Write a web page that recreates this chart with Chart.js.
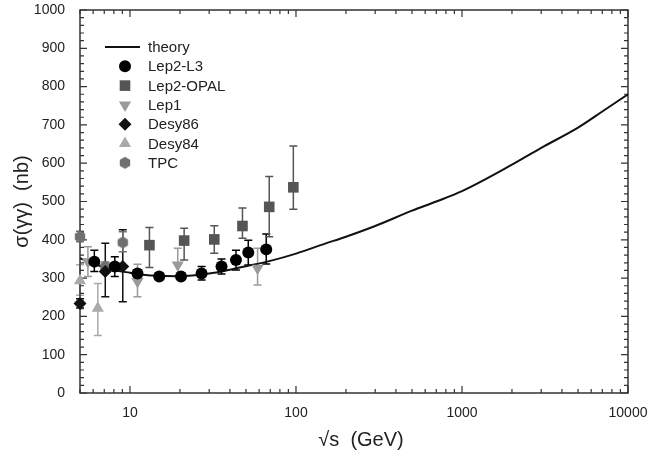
<!DOCTYPE html>
<html>
<head>
<meta charset="utf-8">
<script src="https://cdn.jsdelivr.net/npm/chart.js@4.4.0/dist/chart.umd.min.js"></script>
<style>
  html, body { margin: 0; padding: 0; background: #fff; }
  canvas { display: block; }
</style>
</head>
<body>
<canvas id="chart" width="649" height="462"></canvas>
<script>
// theory curve
const theoryX = [5, 6, 7, 8, 10, 12, 15, 20, 30, 40, 50, 70, 100, 150, 200, 300, 500, 700, 1000, 2000, 3000, 5000, 7000, 10000];
const theoryY = [352, 338, 328, 321, 314, 309, 306, 305, 312, 322, 331, 345, 364, 390, 408, 436, 476, 500, 527, 596, 640, 693, 735, 780];

// measurements: sqrt(s), sigma, lower / upper end of error bar
const l3X  = [6.1, 8.1, 11.1, 15, 20.3, 27, 35.6, 43.5, 51.6, 66.2];
const l3Y  = [343, 330, 312, 304, 304, 312, 330, 347, 367, 375];
const l3Lo = [317, 304, 302, 297, 296, 295, 311, 321, 334, 337];
const l3Hi = [373, 356, 322, 311, 312, 330, 350, 373, 399, 415];

const opalX  = [13.1, 21.2, 32.2, 47.6, 69, 96.4];
const opalY  = [386, 398, 401, 436, 486, 537];
const opalLo = [328, 347, 365, 404, 408, 480];
const opalHi = [432, 430, 437, 483, 565, 645];

const lep1X  = [5.58, 11.1, 19.4, 58.7];
const lep1Y  = [343, 291, 334, 326];
const lep1Lo = [304, 251, 304, 282];
const lep1Hi = [382, 336, 378, 378];

const desy86X  = [5, 7.1, 9.05];
const desy86Y  = [234, 317, 330];
const desy86Lo = [222, 251, 238];
const desy86Hi = [246, 391, 426];

const desy84X  = [5, 6.4];
const desy84Y  = [293, 221];
const desy84Lo = [255, 150];
const desy84Hi = [335, 286];

const tpcX  = [5, 7.1, 9.05];
const tpcY  = [408, 330, 393];
const tpcLo = [395, 318, 369];
const tpcHi = [422, 342, 421];

const xTickValues = [5, 6, 7, 8, 9, 10, 20, 30, 40, 50, 60, 70, 80, 90, 100,
  200, 300, 400, 500, 600, 700, 800, 900, 1000,
  2000, 3000, 4000, 5000, 6000, 7000, 8000, 9000, 10000];
const xLabelValues = [10, 100, 1000, 10000];

const FONT = '"Liberation Sans", Arial, Helvetica, sans-serif';

function toPoints(xs, ys, lo, hi) {
  return xs.map((x, i) => ({ x: x, y: ys[i], lo: lo ? lo[i] : null, hi: hi ? hi[i] : null }));
}

function hexagon(r, color) {
  const c = document.createElement('canvas');
  c.width = c.height = 2 * r + 2;
  const g = c.getContext('2d');
  g.fillStyle = color;
  g.beginPath();
  for (let i = 0; i < 6; i++) {
    const a = Math.PI / 6 + i * Math.PI / 3;
    const px = r + 1 + r * Math.cos(a), py = r + 1 + r * Math.sin(a);
    if (i === 0) g.moveTo(px, py); else g.lineTo(px, py);
  }
  g.closePath();
  g.fill();
  return c;
}

function markerSet(label, xs, ys, lo, hi, color, style, radius, rotation) {
  return {
    label: label,
    data: toPoints(xs, ys, lo, hi),
    showLine: false,
    clip: false,
    pointStyle: style,
    pointRadius: radius,
    pointRotation: rotation || 0,
    pointBackgroundColor: color,
    pointBorderColor: color,
    pointBorderWidth: 0,
    errColor: color,
    order: 0
  };
}

const datasets = [
  {
    label: 'theory',
    data: toPoints(theoryX, theoryY),
    showLine: true,
    borderColor: '#111',
    borderWidth: 2,
    pointRadius: 0,
    cubicInterpolationMode: 'monotone',
    order: 1
  },
  markerSet('Lep2-L3', l3X, l3Y, l3Lo, l3Hi, '#000', 'circle', 6),
  markerSet('Lep2-OPAL', opalX, opalY, opalLo, opalHi, '#555', 'rect', 7.5),
  markerSet('Lep1', lep1X, lep1Y, lep1Lo, lep1Hi, '#9a9a9a', 'triangle', 7, 180),
  markerSet('Desy86', desy86X, desy86Y, desy86Lo, desy86Hi, '#111', 'rectRot', 6.5),
  markerSet('Desy84', desy84X, desy84Y, desy84Lo, desy84Hi, '#aaa', 'triangle', 7),
  markerSet('TPC', tpcX, tpcY, tpcLo, tpcHi, '#707070', hexagon(6, '#707070'), 6)
];

// error bars, drawn under the markers
const errorBars = {
  id: 'errorBars',
  beforeDatasetsDraw(chart) {
    const ctx = chart.ctx, xs = chart.scales.x, ys = chart.scales.y;
    ctx.save();
    ctx.lineWidth = 1.5;
    chart.data.datasets.forEach(ds => {
      if (!ds.errColor) return;
      ctx.strokeStyle = ds.errColor;
      ds.data.forEach(p => {
        if (p.lo == null) return;
        const px = xs.getPixelForValue(p.x);
        const y1 = ys.getPixelForValue(p.lo), y2 = ys.getPixelForValue(p.hi);
        ctx.beginPath();
        ctx.moveTo(px, y1); ctx.lineTo(px, y2);
        ctx.moveTo(px - 4, y1); ctx.lineTo(px + 4, y1);
        ctx.moveTo(px - 4, y2); ctx.lineTo(px + 4, y2);
        ctx.stroke();
      });
    });
    ctx.restore();
  }
};

// box, inward ticks on all sides, axis titles, legend
const frame = {
  id: 'frame',
  beforeDatasetsDraw(chart) {
    const ctx = chart.ctx, a = chart.chartArea, xs = chart.scales.x, ys = chart.scales.y;
    ctx.save();
    ctx.strokeStyle = '#333';
    ctx.lineWidth = 1.5;
    ctx.strokeRect(a.left, a.top, a.width, a.height);
    ctx.lineWidth = 1.2;
    ctx.beginPath();
    xs.ticks.forEach(t => {
      const px = xs.getPixelForValue(t.value);
      const len = xLabelValues.includes(t.value) ? 7 : 4;
      ctx.moveTo(px, a.bottom); ctx.lineTo(px, a.bottom - len);
      ctx.moveTo(px, a.top); ctx.lineTo(px, a.top + len);
    });
    ys.ticks.forEach(t => {
      const py = ys.getPixelForValue(t.value);
      const len = t.value % 100 === 0 ? 7 : 4;
      ctx.moveTo(a.left, py); ctx.lineTo(a.left + len, py);
      ctx.moveTo(a.right, py); ctx.lineTo(a.right - len, py);
    });
    ctx.stroke();
    ctx.restore();
  },
  afterDraw(chart) {
    const ctx = chart.ctx, a = chart.chartArea;
    ctx.save();
    ctx.fillStyle = '#222';
    ctx.font = '20px ' + FONT;
    ctx.textAlign = 'center';
    ctx.textBaseline = 'middle';
    ctx.fillText('\u221As  (GeV)', (a.left + a.right) / 2 + 7, 440);
    ctx.save();
    ctx.translate(22, (a.top + a.bottom) / 2);
    ctx.rotate(-Math.PI / 2);
    ctx.fillText('\u03C3(\u03B3\u03B3)  (nb)', 0, 0);
    ctx.restore();

    // legend
    ctx.font = '15px ' + FONT;
    ctx.textAlign = 'left';
    chart.data.datasets.forEach((ds, i) => {
      const ly = a.top + 37 + i * 19.3;
      if (ds.showLine) {
        ctx.strokeStyle = ds.borderColor;
        ctx.lineWidth = 2;
        ctx.beginPath();
        ctx.moveTo(a.left + 25, ly); ctx.lineTo(a.left + 60, ly);
        ctx.stroke();
      } else {
        ctx.fillStyle = ds.pointBackgroundColor;
        ctx.strokeStyle = ds.pointBorderColor;
        Chart.helpers.drawPoint(ctx, {
          pointStyle: ds.pointStyle, radius: ds.pointRadius,
          rotation: ds.pointRotation, borderWidth: 0
        }, a.left + 45, ly);
      }
      ctx.fillStyle = '#222';
      ctx.fillText(ds.label, a.left + 68, ly + 1);
    });
    ctx.restore();
  }
};

function noScalePadding(s) {
  s.paddingTop = 0;
  s.paddingBottom = 0;
  s.paddingLeft = 0;
  s.paddingRight = 0;
}

new Chart(document.getElementById('chart'), {
  type: 'scatter',
  data: { datasets: datasets },
  options: {
    responsive: false,
    animation: false,
    devicePixelRatio: 1,
    layout: { padding: { left: 0, right: 21, top: 10, bottom: 0 } },
    plugins: { legend: { display: false }, tooltip: { enabled: false } },
    scales: {
      x: {
        type: 'logarithmic',
        min: 5,
        max: 10000,
        afterBuildTicks: s => { s.ticks = xTickValues.map(v => ({ value: v })); },
        afterFit: s => { s.height = 69; noScalePadding(s); },
        grid: { display: false },
        border: { display: false },
        ticks: {
          autoSkip: false,
          maxRotation: 0,
          padding: 4,
          color: '#222',
          font: { family: FONT, size: 14 },
          callback: v => xLabelValues.includes(v) ? String(v) : ''
        }
      },
      y: {
        min: 0,
        max: 1000,
        afterFit: s => { s.width = 80; noScalePadding(s); },
        grid: { display: false },
        border: { display: false },
        ticks: {
          stepSize: 20,
          autoSkip: false,
          padding: 7,
          color: '#222',
          font: { family: FONT, size: 14 },
          callback: v => v % 100 === 0 ? String(v) : ''
        }
      }
    }
  },
  plugins: [errorBars, frame]
});
</script>
</body>
</html>
